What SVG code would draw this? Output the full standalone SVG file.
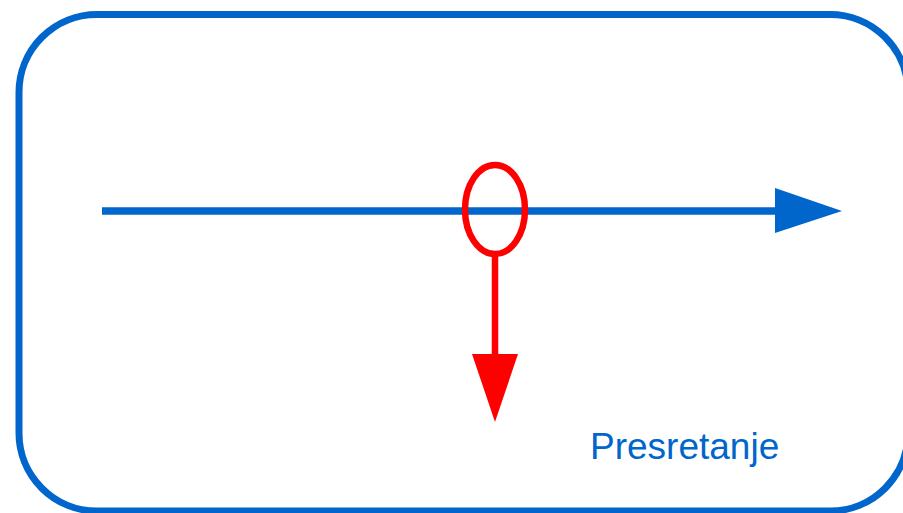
<svg xmlns="http://www.w3.org/2000/svg" width="903" height="513" viewBox="0 0 903 513">
<style>
.frame{fill:none;stroke:#0066cc;stroke-width:7}
.blue{stroke:#0066cc;stroke-width:7.5;fill:none}
.red{stroke:#ff0000;stroke-width:6.5;fill:none}
.lbl{font-family:"Liberation Sans",Arial,sans-serif;font-size:37px;fill:#0066cc}
</style>
<rect width="903" height="513" fill="#ffffff"/>
<g id="frame">
<rect class="frame" x="19" y="14.5" width="889" height="496.5" rx="78" ry="78"/>
</g>
<g id="connectors">
<line class="blue" x1="102" y1="211" x2="778" y2="211"/>
<polygon points="775,188 842,211 775,233" fill="#0066cc"/>
<line class="red" x1="495" y1="254" x2="495" y2="357"/>
<polygon points="472,354 518,354 495,422" fill="#ff0000"/>
</g>
<g id="ring">
<ellipse class="red" cx="495" cy="209.5" rx="30" ry="44.5"/>
</g>
<g id="label">
<text class="lbl" x="590" y="459">Presretanje</text>
</g>
</svg>
